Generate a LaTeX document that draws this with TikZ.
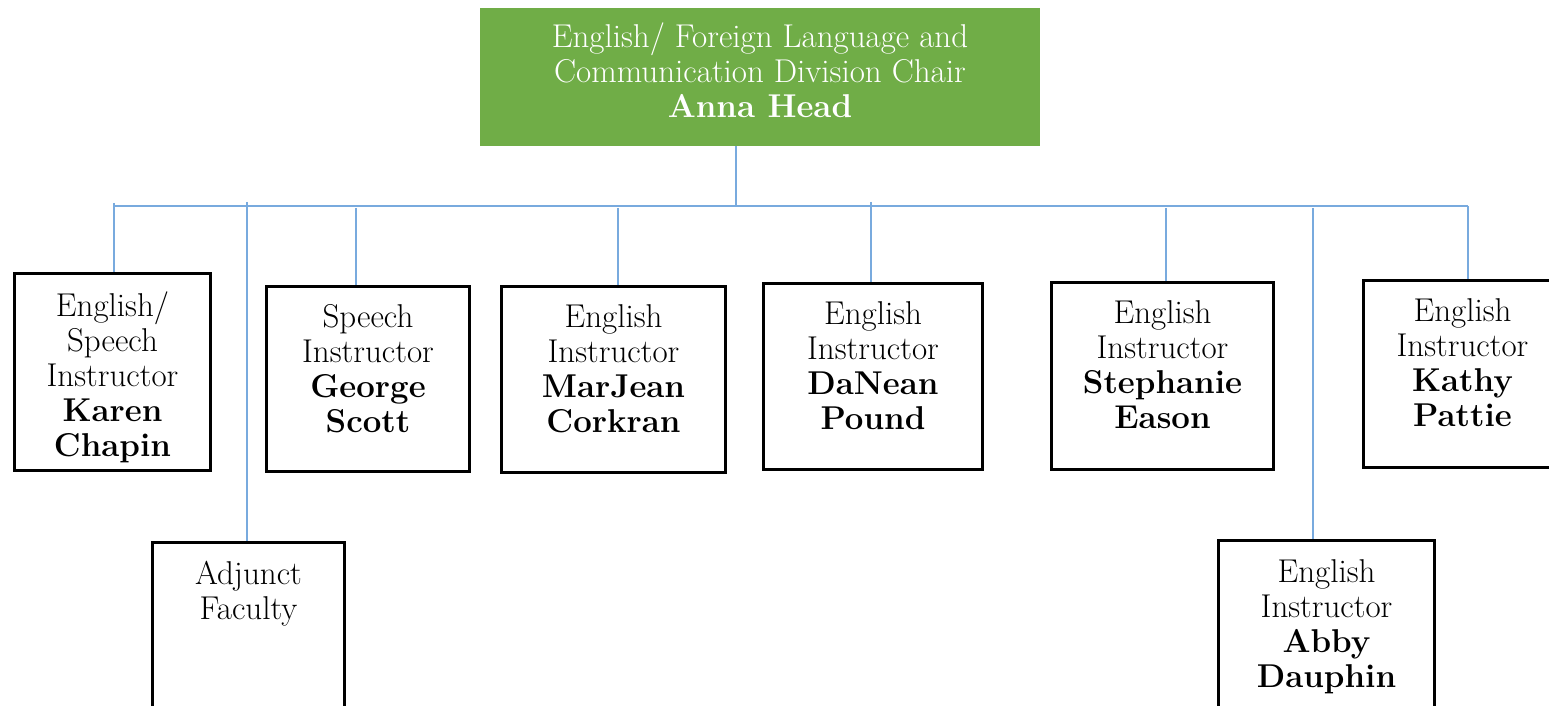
\documentclass[tikz,border=0pt]{standalone}
\definecolor{chairgreen}{HTML}{70AD47}
\definecolor{connblue}{RGB}{120,170,222}
\tikzset{
  chairbox/.style={rectangle, fill=chairgreen, draw=none, inner sep=0pt, minimum width=280pt, minimum height=69pt},
  staffbox/.style={rectangle, draw=black, line width=1.5pt, inner sep=0pt, anchor=north west},
  txt/.style={anchor=north, align=center, inner sep=0pt, font=\fontsize{16.5}{17.5}\selectfont},
  conn/.style={draw=connblue, line width=1pt}
}
\begin{document}
\begin{tikzpicture}[x=0.5pt, y=-0.5pt]
\useasboundingbox (0,0) rectangle (1549,706);
\clip (0,0) rectangle (1549,706);
% chair
\node[chairbox] (chair) at (760,77) {};
\node[txt, text=white] (chairT) at ([yshift=-7.5pt]chair.north) {English/ Foreign Language and\\Communication Division Chair\\\textbf{Anna Head}};
% staff boxes
\node[staffbox, minimum width=98pt, minimum height=98.5pt] (karen) at (13,272) {};
\node[staffbox, minimum width=96pt, minimum height=115pt] (adjunct) at (151,541) {};
\node[staffbox, minimum width=101.5pt, minimum height=92.5pt] (george) at (265,285) {};
\node[staffbox, minimum width=112pt, minimum height=93pt] (marjean) at (500,285) {};
\node[staffbox, minimum width=109.5pt, minimum height=93pt] (danean) at (762,282) {};
\node[staffbox, minimum width=111pt, minimum height=93.5pt] (stephanie) at (1050,281) {};
\node[staffbox, minimum width=108pt, minimum height=115pt] (abby) at (1217,539) {};
\node[staffbox, minimum width=99pt, minimum height=93.5pt] (kathy) at (1362,279) {};
% texts
\node[txt] (karenT) at ([yshift=-9.5pt]karen.north) {English/\\Speech\\Instructor\\\textbf{Karen}\\\textbf{Chapin}};
\node[txt] (adjunctT) at ([yshift=-10pt]adjunct.north) {Adjunct\\Faculty};
\node[txt] (georgeT) at ([yshift=-9.5pt]george.north) {Speech\\Instructor\\\textbf{George}\\\textbf{Scott}};
\node[txt] (marjeanT) at ([yshift=-9.5pt]marjean.north) {English\\Instructor\\\textbf{MarJean}\\\textbf{Corkran}};
\node[txt] (daneanT) at ([yshift=-9.5pt]danean.north) {English\\Instructor\\\textbf{DaNean}\\\textbf{Pound}};
\node[txt] (stephanieT) at ([yshift=-9.5pt]stephanie.north) {English\\Instructor\\\textbf{Stephanie}\\\textbf{Eason}};
\node[txt] (abbyT) at ([yshift=-10pt]abby.north) {English\\Instructor\\\textbf{Abby}\\\textbf{Dauphin}};
\node[txt] (kathyT) at ([yshift=-9.5pt]kathy.north) {English\\Instructor\\\textbf{Kathy}\\\textbf{Pattie}};
% connectors
\coordinate (bus) at (736,206);
\coordinate (busL) at (114,206);
\coordinate (busR) at (1468,206);
\coordinate (tK) at (114,203);
\coordinate (tA) at (247,202);
\coordinate (tG) at (356,208);
\coordinate (tM) at (618,208);
\coordinate (tD) at (871,202);
\coordinate (tS) at (1166,208);
\coordinate (tAb) at (1313,208);
\coordinate (tKa) at (1468,206);
\draw[conn] (chair.south -| bus) -- (bus);
\draw[conn] (busL) -- (busR);
\draw[conn] (tK) -- (tK |- karen.north);
\draw[conn] (tA) -- (tA |- adjunct.north);
\draw[conn] (tG) -- (tG |- george.north);
\draw[conn] (tM) -- (tM |- marjean.north);
\draw[conn] (tD) -- (tD |- danean.north);
\draw[conn] (tS) -- (tS |- stephanie.north);
\draw[conn] (tAb) -- (tAb |- abby.north);
\draw[conn] (tKa) -- (tKa |- kathy.north);
\end{tikzpicture}
\end{document}
